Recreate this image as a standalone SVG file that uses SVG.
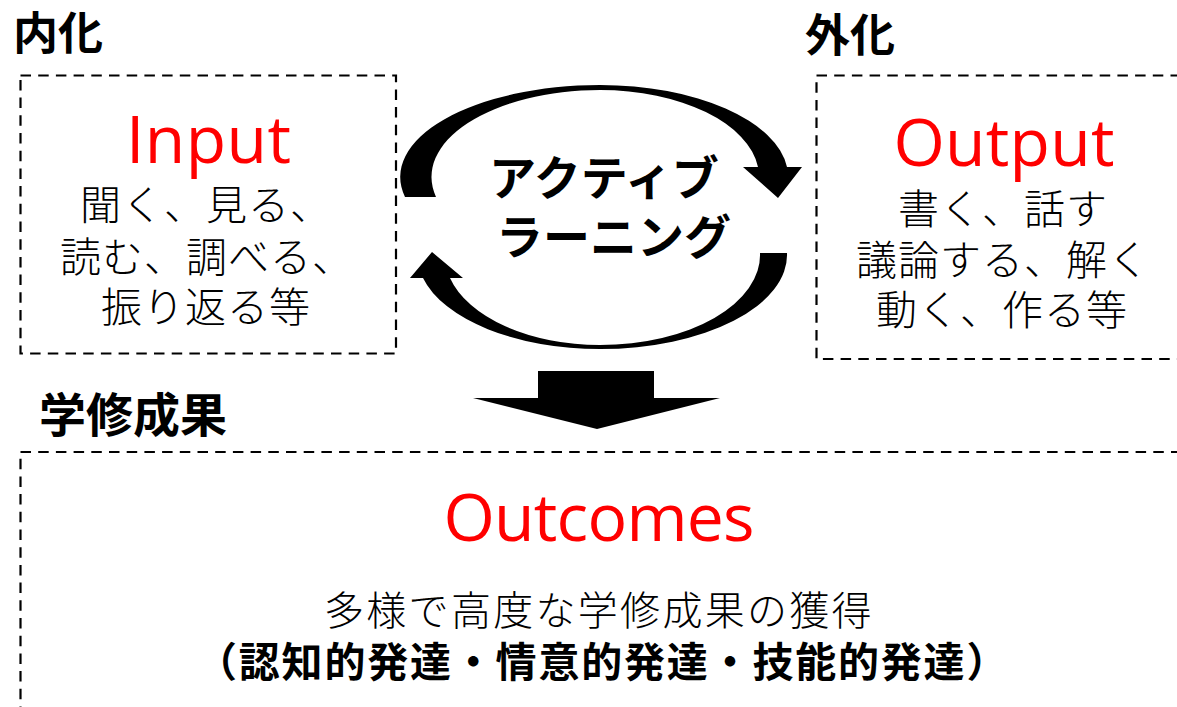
<svg xmlns="http://www.w3.org/2000/svg" width="1177" height="707" viewBox="0 0 1177 707">
  <style>
    .box { fill: none; stroke: #000; stroke-width: 2.2; stroke-dasharray: 10.5 7.2; }
    .jp { font-family: "Noto Sans CJK JP", "Noto Sans", sans-serif; font-weight: 300; fill: #000; }
    .jpb { font-family: "Noto Sans CJK JP", "Noto Sans", sans-serif; font-weight: bold; fill: #000; }
    .title { font-family: "Open Sans", "Noto Sans", sans-serif; fill: #FF0000; font-size: 66px; text-anchor: middle; }
    .body { font-size: 41px; letter-spacing: 1px; }
    .arrow { fill: #000; stroke: none; }
  </style>
  <rect width="1177" height="707" fill="#fff"/>

  <g id="label-naika">
    <text class="jpb" x="13" y="50" font-size="45">内化</text>
  </g>
  <g id="label-gaika">
    <text class="jpb" x="805" y="52" font-size="45">外化</text>
  </g>
  <g id="label-outcomes">
    <text class="jpb" x="39" y="432" font-size="47">学修成果</text>
  </g>

  <g id="input">
    <rect class="box" x="20.5" y="75.5" width="375.5" height="278"/>
    <text class="title" x="208.5" y="163" textLength="165">Input</text>
    <text class="jp body" x="80" y="220">聞く、見る、</text>
    <text class="jp body" x="60" y="272">読む、調べる、</text>
    <text class="jp body" x="101" y="322">振り返る等</text>
  </g>

  <g id="output">
    <rect class="box" x="816.5" y="75.5" width="380" height="283.5"/>
    <text class="title" x="1004" y="166" textLength="221">Output</text>
    <text class="jp body" x="898" y="224">書く、話す</text>
    <text class="jp body" x="856" y="275">議論する、解く</text>
    <text class="jp body" x="876" y="325">動く、作る等</text>
  </g>

  <g id="active-learning">
    <text class="jpb" x="489" y="195" font-size="47">アクティブ</text>
    <text class="jpb" x="496" y="254" font-size="47">ラーニング</text>
  </g>

  <g id="outcomes">
    <rect class="box" x="20.5" y="452" width="1180" height="280"/>
    <text class="title" x="599" y="541" textLength="311">Outcomes</text>
    <text class="jp" x="324" y="625" font-size="40" letter-spacing="2.3">多様で高度な学修成果の獲得</text>
    <text class="jpb" x="196" y="677" font-size="41" letter-spacing="1.8">（認知的発達・情意的発達・技能的発達）</text>
  </g>

  <g id="connectors">
    <path class="arrow" d="M 405 197 A 200 92 0 0 1 600 85 A 188 92 0 0 1 787 167 L 802 167 L 778 198 L 743 167 L 758 167 A 159 87 0 0 0 600 90 A 168.5 87 0 0 0 436 197 Z"/>
    <path class="arrow" d="M 787 253 A 187 94 0 0 1 600 349 A 182.5 94 0 0 1 423 278 L 410 278 L 432 252 L 463 278 L 450 278 A 155 90 0 0 0 600 345 A 160 90 0 0 0 760 253 Z"/>
    <polygon class="arrow" points="538,371 654,371 654,398 720,398 597,429 473,398 538,398"/>
  </g>
</svg>
